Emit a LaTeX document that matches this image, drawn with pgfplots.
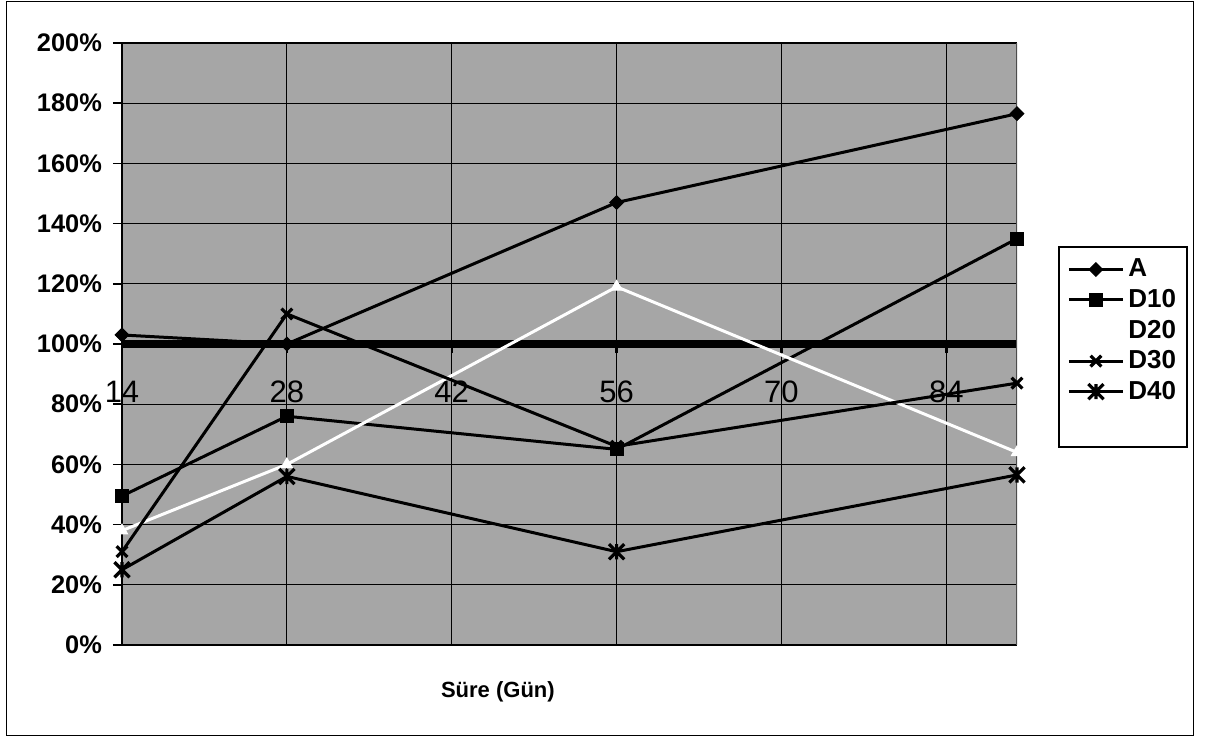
\documentclass[border=0pt]{standalone}
\usepackage{pgfplots}
\pgfplotsset{compat=1.18}
\usepackage{fontspec}
\setmainfont{Liberation Sans}

% filled rhomb with equal width and height
\pgfdeclareplotmark{rhomb}{%
  \pgfpathmoveto{\pgfqpoint{0pt}{\pgfplotmarksize}}%
  \pgfpathlineto{\pgfqpoint{\pgfplotmarksize}{0pt}}%
  \pgfpathlineto{\pgfqpoint{0pt}{-\pgfplotmarksize}}%
  \pgfpathlineto{\pgfqpoint{-\pgfplotmarksize}{0pt}}%
  \pgfpathclose\pgfusepathqfillstroke}
% cross with a vertical bar
\pgfdeclareplotmark{xbar}{%
  \pgfpathmoveto{\pgfqpoint{-\pgfplotmarksize}{-\pgfplotmarksize}}%
  \pgfpathlineto{\pgfqpoint{\pgfplotmarksize}{\pgfplotmarksize}}%
  \pgfpathmoveto{\pgfqpoint{-\pgfplotmarksize}{\pgfplotmarksize}}%
  \pgfpathlineto{\pgfqpoint{\pgfplotmarksize}{-\pgfplotmarksize}}%
  \pgfpathmoveto{\pgfqpoint{0pt}{-\pgfplotmarksize}}%
  \pgfpathlineto{\pgfqpoint{0pt}{\pgfplotmarksize}}%
  \pgfusepathqstroke}

\begin{document}
\begin{tikzpicture}
\begin{axis}[
  scale only axis,
  width=447.5pt, height=301pt,
  xmin=14, xmax=90, ymin=0, ymax=200,
  axis background/.style={fill=black!35},
  axis x line*=bottom,
  axis y line*=left,
  axis x line shift=-150.5pt,
  x axis line style={line width=4pt},
  y axis line style={line width=1pt},
  xtick={14,28,42,56,70,84},
  xticklabels={14,28,42,56,70,84},
  ytick={0,20,...,200},
  yticklabels={0\%,20\%,40\%,60\%,80\%,100\%,120\%,140\%,160\%,180\%,200\%},
  tick align=outside,
  major tick length=4.5pt,
  xtick style={line width=1.2pt, black},
  ytick style={line width=0.8pt, black},
  grid=major,
  major grid style={black, line width=0.6pt},
  xticklabel style={font=\fontsize{15.5}{18}\selectfont, yshift=-10.5pt},
  yticklabel style={font=\fontsize{12.7}{15}\selectfont\bfseries, xshift=-2pt},
  xlabel={Süre (Gün)},
  xlabel style={font=\fontsize{11}{13}\selectfont\bfseries,
    at={(axis description cs:0.42,-0.078)}, anchor=center},
  legend image code/.code={\draw[mark repeat=2,mark phase=2,#1]
    plot coordinates {(0pt,0pt) (13.5pt,0pt) (27pt,0pt)};},
  legend style={draw=none, fill=none, at={(axis description cs:1.0559,0.645)},
    anchor=north west, inner xsep=0pt, inner ysep=0pt, row sep=2.7pt,
    nodes={inner ysep=1pt},
    font=\fontsize{13}{15}\selectfont\bfseries},
  legend cell align=left,
  every axis plot/.append style={line width=1.5pt},
]
\addplot[black, mark=rhomb, mark size=3.4pt, mark options={solid, line width=0.5pt}]
  coordinates {(14,103) (28,100) (56,147) (90,176.5)};
\addlegendentry{A}
\addplot[black, mark=square*, mark size=3.2pt, mark options={solid, line width=0.5pt}]
  coordinates {(14,49.5) (28,76) (56,65) (90,135)};
\addlegendentry{D10}
\addplot[white, mark=triangle*, mark size=3.2pt, mark options={solid, line width=0.5pt}]
  coordinates {(14,38) (28,60) (56,119) (90,64)};
\addlegendentry{D20}
\addplot[black, mark=x, mark size=3.8pt, mark options={solid, line width=1.6pt}]
  coordinates {(14,31) (28,110) (56,66) (90,87)};
\addlegendentry{D30}
\addplot[black, mark=xbar, mark size=3.8pt, mark options={solid, line width=1.6pt}]
  coordinates {(14,25) (28,56) (56,31) (90,56.5)};
\addlegendentry{D40}
\draw[black!70, line width=0.6pt] (rel axis cs:1,0) -- (rel axis cs:1,1);
\end{axis}
% chart frame, legend frame and page extent
\draw[black, line width=0.5pt] (-57.5pt,-45pt) rectangle (535.5pt,321.5pt);
\draw[black, line width=0.6pt] (468.5pt,99pt) rectangle (532.5pt,199pt);
\path[use as bounding box] (-61pt,-47.5pt) rectangle (543pt,322.5pt);
\end{tikzpicture}
\end{document}
